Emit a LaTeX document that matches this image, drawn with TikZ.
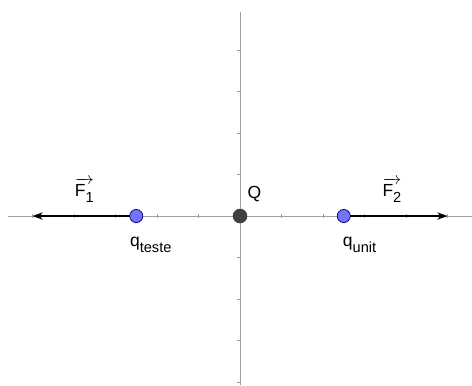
\documentclass[tikz,border=0pt]{standalone}
\usepackage{fontspec}
\setmainfont{Liberation Sans}
\usepackage{amsmath}
\usetikzlibrary{arrows.meta}

\newcommand{\lowsub}[1]{\raisebox{-4pt}{\fontsize{10}{10}\selectfont #1}}

\begin{document}
\begin{tikzpicture}[
    axis/.style={draw=gray!75, line width=0.55pt},
    charge/.style={circle, draw=blue!45!black, fill=blue!55!white, line width=0.5pt, inner sep=0pt, minimum size=9pt},
    source/.style={circle, fill=black!75, inner sep=0pt, minimum size=10pt},
    force/.style={line width=1.3pt, -{Stealth[length=7pt, width=5pt]}},
    lbl/.style={font=\fontsize{12}{14}\selectfont, inner sep=0pt}
  ]
  \useasboundingbox (-5.783,-4.072) rectangle (5.590,5.205);
  % axes
  \draw[axis] (-5.59,0) -- (5.59,0);
  \draw[axis] (0,-4.07) -- (0,4.92);
  \foreach \i in {-5,...,-1,1,2,...,5}
    \draw[axis, line width=0.45pt] (\i,-0.05) -- (\i,0.05);
  \foreach \j in {-4,...,-1,1,2,...,4}
    \draw[axis, line width=0.45pt] (-0.07,\j) -- (0,\j);
  % force tips
  \coordinate (tip1) at (-5,0);
  \coordinate (tip2) at (5,0);
  \draw[force] (-2.5,0) -- (tip1);
  \draw[force] (2.5,0) -- (tip2);
  % charges
  \node[source] (Q) at (0,0) {};
  \node[charge] (qteste) at (-2.5,0) {};
  \node[charge] (qunit) at (2.5,0) {};
  \node[lbl] (Qlbl) at (0.35,0.53) {Q};
  \node[lbl] (qtestelbl) at (-2.15,-0.7) {q\lowsub{teste}};
  \node[lbl] (qunitlbl) at (2.88,-0.7) {q\lowsub{unit}};
  \node[lbl] (F1lbl) at (-3.75,0.62) {$\overrightarrow{\text{F\lowsub{1}}}$};
  \node[lbl] (F2lbl) at (3.66,0.62) {$\overrightarrow{\text{F\lowsub{2}}}$};
\end{tikzpicture}
\end{document}
